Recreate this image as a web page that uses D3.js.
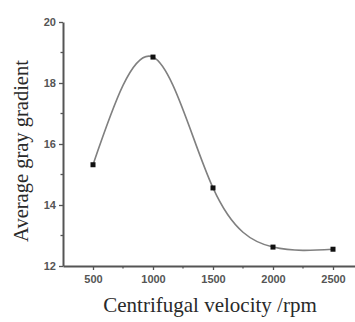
<!DOCTYPE html>
<html><head><meta charset="utf-8">
<script src="https://cdn.jsdelivr.net/npm/d3@7"></script>
<style>body{margin:0;background:#fff}svg{display:block}</style>
</head><body>
<script>
const velocities = [500, 1000, 1500, 2000, 2500];
const gradients = [15.32, 18.85, 14.56, 12.62, 12.55];
const xTicks = [500, 1000, 1500, 2000, 2500];
const xMinorTicks = [750, 1250, 1750, 2250];
const yTicks = [12, 14, 16, 18, 20];
const yMinorTicks = [13, 15, 17, 19];
const xTitle = "Centrifugal velocity /rpm";
const yTitle = "Average gray gradient";

const W = 355, H = 322;
const svg = d3.select("body").append("svg").attr("width", W).attr("height", H);
const x = d3.scaleLinear().domain([250, 2750]).range([63, 363]);
const y = d3.scaleLinear().domain([12, 20]).range([266, 22]);
const axisColor = "#555";

// x axis
const gx = svg.append("g").attr("transform", `translate(0,${y(12)})`);
gx.call(d3.axisBottom(x).tickValues(xTicks).tickFormat(d3.format("d")).tickSize(4).tickPadding(5).tickSizeOuter(0));
gx.append("g").selectAll("line").data(xMinorTicks).join("line")
  .attr("x1", d => x(d)).attr("x2", d => x(d)).attr("y1", 0).attr("y2", 2.5);
// y axis
const gy = svg.append("g").attr("transform", `translate(${x(250)},0)`);
gy.call(d3.axisLeft(y).tickValues(yTicks).tickFormat(d3.format("d")).tickSize(4).tickPadding(3).tickSizeOuter(0));
gy.append("g").selectAll("line").data(yMinorTicks).join("line")
  .attr("y1", d => y(d)).attr("y2", d => y(d)).attr("x1", 0).attr("x2", -2.5);

svg.selectAll(".domain").attr("stroke", axisColor).attr("stroke-width", 2);
svg.selectAll("g line").attr("stroke", axisColor).attr("stroke-width", 1.3);
svg.selectAll(".tick text").attr("font-family", "Liberation Sans, Arial, sans-serif")
  .attr("font-size", 11).attr("fill", "#555").attr("font-weight", "bold");

const data = velocities.map((v, i) => ({v, g: gradients[i]}));
svg.append("path").datum(data)
  .attr("fill", "none").attr("stroke", "#808080").attr("stroke-width", 1.6)
  .attr("d", d3.line().x(d => x(d.v)).y(d => y(d.g)).curve(d3.curveNatural));

svg.selectAll("rect.pt").data(data).join("rect").attr("class", "pt")
  .attr("x", d => x(d.v) - 2.5).attr("y", d => y(d.g) - 2.5)
  .attr("width", 5).attr("height", 5).attr("fill", "#111");

svg.append("text").attr("x", 210).attr("y", 312).attr("text-anchor", "middle")
  .attr("font-family", "Liberation Serif, Times New Roman, serif").attr("font-size", 21)
  .attr("fill", "#2a2a2a").text(xTitle);
svg.append("text").attr("transform", "translate(28,151) rotate(-90)").attr("text-anchor", "middle")
  .attr("font-family", "Liberation Serif, Times New Roman, serif").attr("font-size", 20.5)
  .attr("fill", "#2a2a2a").text(yTitle);
</script>
</body></html>
